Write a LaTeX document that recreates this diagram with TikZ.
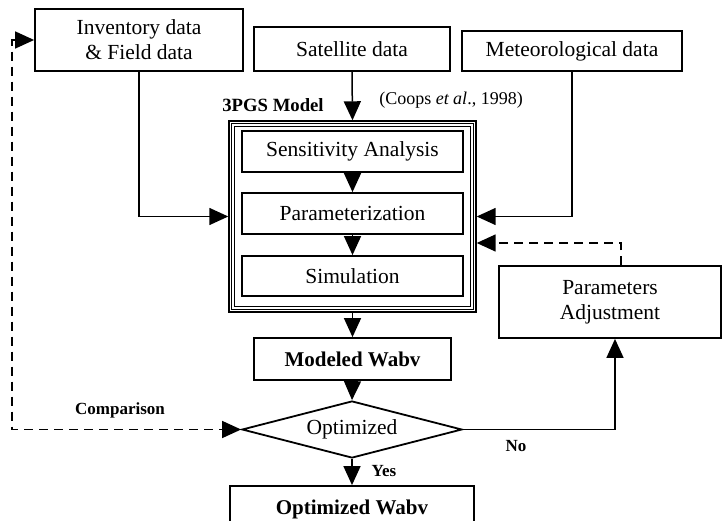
\documentclass[tikz,border=0pt]{standalone}
\usepackage{fontspec}
\setmainfont{Liberation Serif}
\usetikzlibrary{arrows.meta,shapes.geometric}
\begin{document}
\begin{tikzpicture}[x=1pt,y=-1pt,
  box/.style={draw,line width=1.8pt,inner sep=0pt,align=center,font=\fontsize{21.5}{25}\selectfont},
  arr/.style={line width=1.5pt,-{Triangle[length=19pt,width=17pt]}},
  dasharr/.style={line width=1.5pt,dash pattern=on 9pt off 6pt},
  lbl/.style={font=\fontsize{17}{20}\selectfont\bfseries,inner sep=0pt}]
\clip (0,0) rectangle (723,521);
\fill[white] (0,0) rectangle (723,521);
% top inputs
\node[box,minimum width=208pt,minimum height=62pt] (inv) at (139,40) {Inventory data\\\& Field data};
\node[box,minimum width=196pt,minimum height=44pt] (sat) at (352,49) {Satellite data};
\node[box,minimum width=220pt,minimum height=40pt] (met) at (572,51) {Meteorological data};
% model
\node[draw,line width=1.4pt,minimum width=247pt,minimum height=191pt,inner sep=0pt] (model) at (352.5,216.5) {};
\draw[line width=1.2pt] ([shift={(3,3)}]model.north west) rectangle ([shift={(-3,-3)}]model.south east);
\draw[line width=1.2pt] ([shift={(6,6)}]model.north west) rectangle ([shift={(-6,-6)}]model.south east);
\node[font=\fontsize{18.7}{22}\selectfont\bfseries,inner sep=0pt] (mlabel) at (273,105) {3PGS Model};
\node[font=\fontsize{18}{22}\selectfont,inner sep=0pt] (cite) at (451,100) {(Coops \textit{et al}., 1998)};
\node[box,minimum width=221pt,minimum height=41pt] (sens) at (352.5,151.5) {Sensitivity Analysis};
\node[box,minimum width=221pt,minimum height=41pt] (param) at (352.5,213.5) {Parameterization};
\node[box,minimum width=221pt,minimum height=40pt] (sim) at (352.5,276) {Simulation};
% lower
\node[box,minimum width=197pt,minimum height=42pt,font=\fontsize{21}{25}\selectfont\bfseries] (mod) at (352.5,359) {Modeled Wabv};
\node[draw,line width=1.8pt,shape=diamond,shape aspect=3.86,minimum width=220pt,minimum height=57pt,inner sep=0pt,font=\fontsize{21.5}{25}\selectfont] (opt) at (352,429.5) {Optimized};
\node[box,minimum width=244pt,minimum height=46pt,font=\fontsize{21}{25}\selectfont\bfseries] (optw) at (352,509) {Optimized Wabv};
\node[box,minimum width=222pt,minimum height=72pt] (padj) at (610,302) {Parameters\\Adjustment};
% connectors
\draw[arr] (inv.south) |- (model.west);
\draw[arr] (sat.south) -- (model.north);
\draw[arr] (met.south) |- (model.east);
\draw[arr,dasharr] ([xshift=11pt]padj.north) |- ([yshift=-26.5pt]model.east);
\draw[arr] (sens.south) -- (param.north);
\draw[arr] (param.south) -- (sim.north);
\draw[arr] (model.south) -- (mod.north);
\draw[arr] (mod.south) -- (opt.north);
\draw[arr] (opt.south) -- (optw.north);
\draw[arr] (opt.east) -| ([xshift=5pt]padj.south);
\coordinate (cb) at (12,429.5);
\coordinate (ct) at (12,40);
\draw[dasharr,{Triangle[length=19pt,width=17pt]}-{Triangle[length=19pt,width=17pt]}] (inv.west) -- (ct) -- (cb) -- (opt.west);
% labels
\node[lbl] (yes) at (384,471) {Yes};
\node[lbl] (no) at (516,446) {No};
\node[lbl] (cmp) at (120,410) {Comparison};
\end{tikzpicture}
\end{document}
